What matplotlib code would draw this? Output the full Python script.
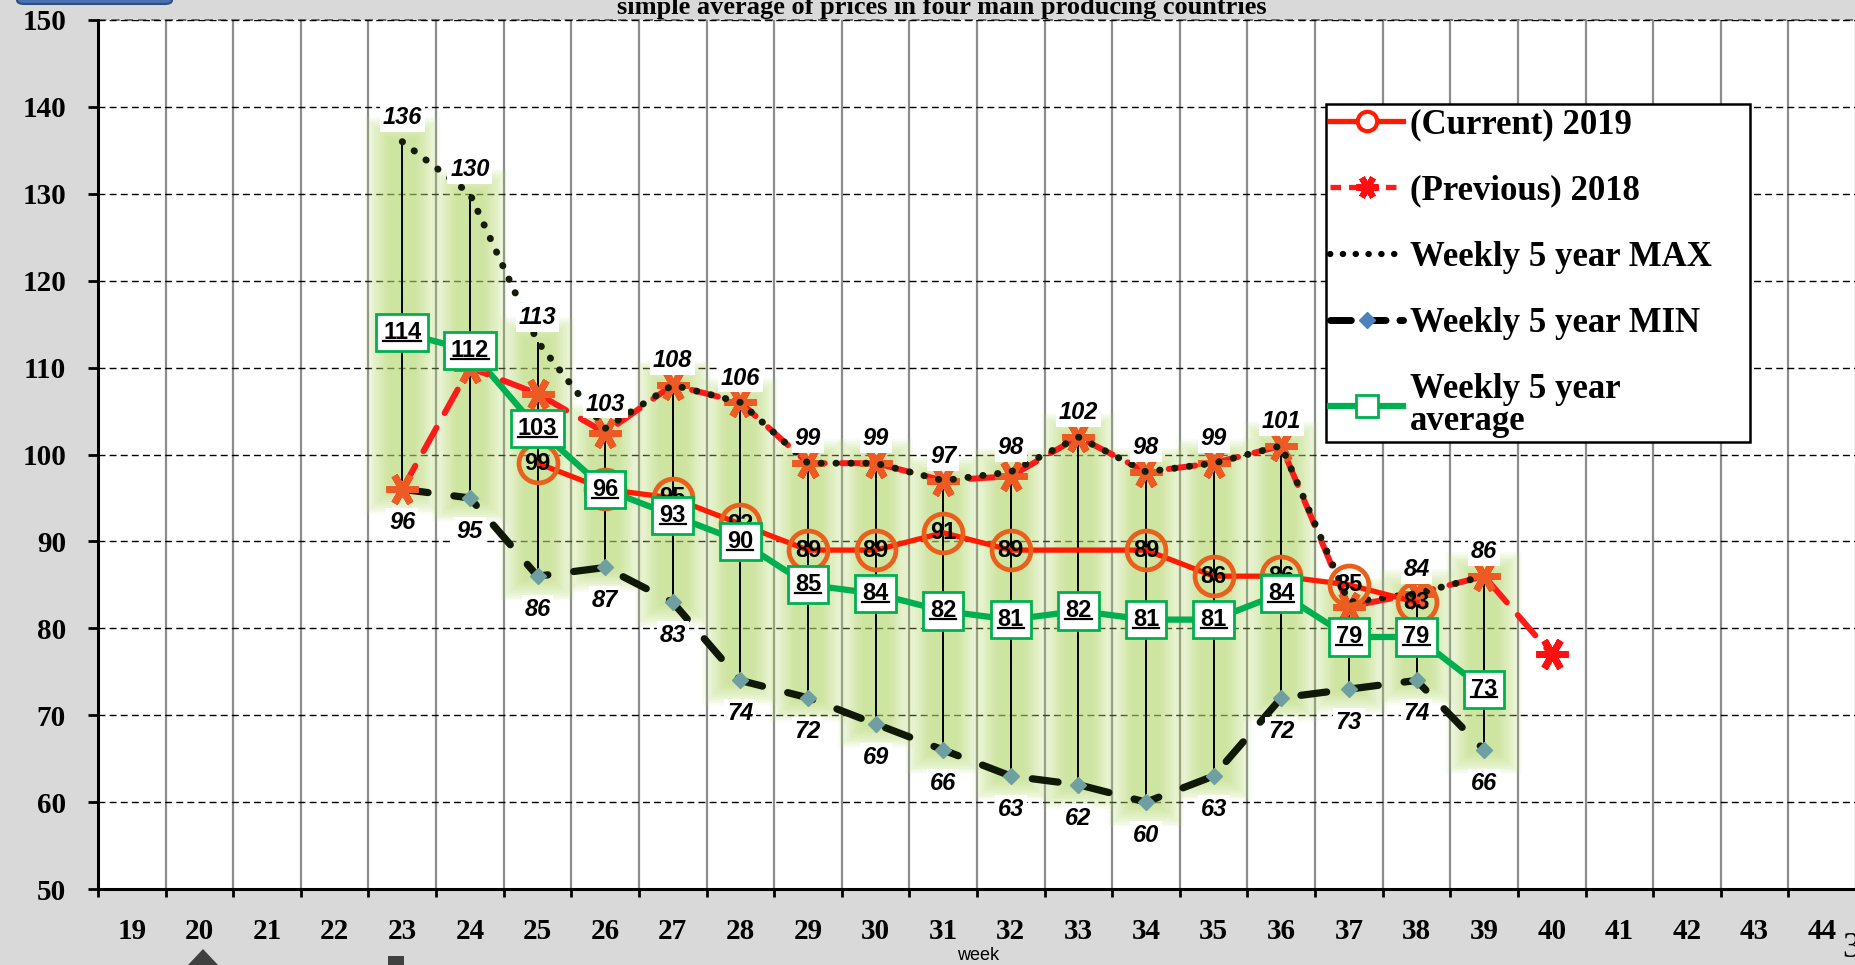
import numpy as np
import matplotlib
matplotlib.use("Agg")
import matplotlib.pyplot as plt
from matplotlib.lines import Line2D
from matplotlib.patches import FancyBboxPatch, Polygon, Rectangle
from matplotlib.font_manager import FontProperties

# x axis categories
weeks = list(range(19, 45))

# 5 year band (weeks 23-39)
band_weeks = list(range(23, 40))
max5 = [136, 130, 113, 103, 108, 106, 99, 99, 97, 98, 102, 98, 99, 101, 83, 84, 86]
min5 = [96, 95, 86, 87, 83, 74, 72, 69, 66, 63, 62, 60, 63, 72, 73, 74, 66]
avg5 = [114, 112, 103, 96, 93, 90, 85, 84, 82, 81, 82, 81, 81, 84, 79, 79, 73]
max_hidden = [37]  # no label shown

# current 2019
cur_weeks = [25, 26, 27, 28, 29, 30, 31, 32, 34, 35, 36, 37, 38]
cur_vals = [99, 96, 95, 92, 89, 89, 91, 89, 89, 86, 86, 85, 83]

# previous 2018
prev_weeks = list(range(23, 41))
prev_vals = [96, 110, 107, 102.5, 108, 106, 99, 99, 97, 97.5, 102, 98, 99, 101, 82.5, 84, 86, 77]

W, H = 1856, 965
fig = plt.figure(figsize=(W / 100, H / 100), dpi=100, facecolor="#D9D9D9")
ax = fig.add_axes([98 / W, 1 - 889 / H, 1 - 98 / W, (889 - 20) / H])
ax.set_facecolor("white")
ax.set_xlim(18.5, 44.5)
ax.set_ylim(50, 150)

serif = "Liberation Serif"
sans = "Liberation Sans"

# grid
ax.set_xticks(np.arange(18.5, 45, 1))
ax.set_xticklabels([])
ax.set_xticks(weeks, minor=True)
ax.set_xticklabels([str(w) for w in weeks], minor=True, fontsize=21,
                   fontweight="bold", family=serif)
ax.set_yticks(range(50, 151, 10))
ax.set_yticklabels([str(v) for v in range(50, 151, 10)], fontsize=21,
                   fontweight="bold", family=serif)
ax.tick_params(axis="x", which="major", length=6, width=2, direction="out")
ax.tick_params(axis="x", which="minor", length=0, pad=21)
ax.tick_params(axis="y", length=7, width=2, direction="out", pad=16)
ax.xaxis.grid(True, which="major", color="#8C8C8C", lw=1.6, zorder=0)
ax.yaxis.grid(True, color="black", ls=(0, (5, 3)), lw=1.0, zorder=0)
ax.set_axisbelow(True)
for s in ["top", "right"]:
    ax.spines[s].set_visible(False)
for s in ["left", "bottom"]:
    ax.spines[s].set_linewidth(2.2)
ax.axhline(150, color="#555555", ls=(0, (5, 3)), lw=1.2, clip_on=False, zorder=0)

bw = np.array(band_weeks)
mx = np.array(max5)
mn = np.array(min5)

# soft green glow behind hi-lo lines
for k in range(12):
    w = 1.12 - k * 0.065
    pad = 2.8 - k * 0.22
    ax.bar(bw, mx - mn + 2 * pad, bottom=mn - pad, width=w, color="#B7DA70",
           alpha=0.078, lw=0, zorder=1)

ax.vlines(bw, mn, mx, color="black", lw=1.4, zorder=3)

# series
ax.plot(bw, avg5, color="#00B050", lw=4.5, zorder=4, solid_capstyle="round")
ax.plot(bw, min5, color="#101808", lw=5.2, ls=(0, (3.6, 3.6)), dash_capstyle="round",
        zorder=4, marker="D", ms=8, mfc="#6F9FA0", mec="#6F9FA0")
ax.plot(prev_weeks, prev_vals, color="#FF1A1A", lw=4.3, ls=(0, (4.5, 2.8)),
        dash_capstyle="round", zorder=5)
ax.plot(prev_weeks[:-1], prev_vals[:-1], ls="none", marker=(6, 2, 90), ms=23,
        mew=5, mec="#EE5A24", zorder=5)
ax.plot(prev_weeks[-1:], prev_vals[-1:], ls="none", marker=(6, 2, 90), ms=23,
        mew=5, mec="#FF1010", zorder=5)
ax.plot(bw, max5, color="#151d0a", lw=5.0, ls=(0, (0.05, 2.1)), dash_capstyle="round",
        zorder=5)
ax.plot(cur_weeks, cur_vals, color="#FF1A00", lw=3.8, zorder=6, marker="o", ms=28,
        mfc="none", mec="#E8601C", mew=3.4)

# labels
lab = dict(fontsize=17, fontweight="bold", family=sans, ha="center", va="center")
for w, v in zip(band_weeks, max5):
    if w in max_hidden:
        continue
    ax.annotate(str(v), (w, v), xytext=(0, 17.5), textcoords="offset points",
                style="italic", zorder=8,
                bbox=dict(boxstyle="square,pad=0.12", fc="white", ec="none"), **lab)
for w, v in zip(band_weeks, min5):
    ax.annotate(str(v), (w, v), xytext=(0, -24), textcoords="offset points",
                style="italic", zorder=8,
                bbox=dict(boxstyle="square,pad=0.12", fc="white", ec="none"), **lab)
for w, v in zip(cur_weeks, cur_vals):
    ax.annotate(str(v), (w, v), zorder=7, **lab)
avg_texts = []
for w, v in zip(band_weeks, avg5):
    t = ax.annotate(str(v), (w, v), zorder=9,
                    bbox=dict(boxstyle="square,pad=0.3", fc="white", ec="#00B050", lw=2),
                    **lab)
    avg_texts.append(t)

# legend
handles = [
    Line2D([], [], color="#FF1A00", lw=3.8, marker="o", ms=14, mfc="white",
           mec="#FF1A00", mew=3),
    Line2D([], [], color="#FF1A1A", lw=3.8, ls=(0, (2, 1.5)), marker=(6, 2, 90),
           ms=16, mew=4.5, mec="#FF1010"),
    Line2D([], [], color="black", lw=4.5, ls=(0, (0.05, 2.0)), dash_capstyle="round"),
    Line2D([], [], color="black", lw=5, ls=(0, (3, 2)), dash_capstyle="round",
           marker="D", ms=8, mfc="#4F81BD", mec="#4F81BD"),
    Line2D([], [], color="#00B050", lw=4.5, marker="s", ms=16, mfc="white",
           mec="#00B050", mew=2),
]
labels = ["(Current) 2019", "(Previous) 2018", "Weekly 5 year MAX",
          "Weekly 5 year MIN", "Weekly 5 year\naverage"]
leg = fig.legend(handles, labels, loc="upper left",
                 bbox_to_anchor=(1326 / W, 1 - 104 / H - 0.01, 424 / W, 0.01),
                 mode="expand",
                 prop=FontProperties(family=serif, weight="bold", size=25),
                 frameon=True, fancybox=False, edgecolor="black", framealpha=1,
                 handlelength=2.1, handletextpad=0.2, labelspacing=0.96,
                 borderpad=0.12, borderaxespad=0)
leg.get_frame().set_linewidth(1.8)
leg.get_texts()[4].set_linespacing(0.95)

# title and other texts
fig.text(942 / W, 1 - 14 / H, "simple average of prices in four main producing countries",
         ha="center", va="baseline", fontsize=19, fontweight="bold", family=serif)
fig.text(978 / W, 1 - 956 / H, "week", ha="center", va="center", fontsize=13, family=sans)
fig.text(1842 / W, 1 - 932 / H, "3", ha="left", va="top", fontsize=25, family=serif)

# stray shapes at the edges
fig.patches.append(FancyBboxPatch((17 / W, 1 - 4 / H), 155 / W, 0.02,
                                  boxstyle="round,pad=0,rounding_size=0.004",
                                  fc="#4A72B0", ec="#2F4F80", lw=1.5,
                                  transform=fig.transFigure, clip_on=False))
fig.patches.append(Polygon([(203 / W, 1 - 949 / H), (188 / W, 0), (218 / W, 0)],
                           closed=True, fc="#404040", ec="none",
                           transform=fig.transFigure))
fig.patches.append(Rectangle((388 / W, 0), 16 / W, 9 / H, fc="#404040", ec="none",
                             transform=fig.transFigure))

# underline average labels
fig.canvas.draw()
inv = fig.transFigure.inverted()
for t in avg_texts:
    bb = t.get_window_extent()
    y = bb.y0 + 0.14 * bb.height
    (x0, y0), (x1, _) = inv.transform([(bb.x0, y), (bb.x1, y)])
    fig.lines.append(Line2D([x0, x1], [y0, y0], color="black", lw=1.6,
                            transform=fig.transFigure, zorder=10))

fig.savefig("out.png", dpi=100, facecolor=fig.get_facecolor())
